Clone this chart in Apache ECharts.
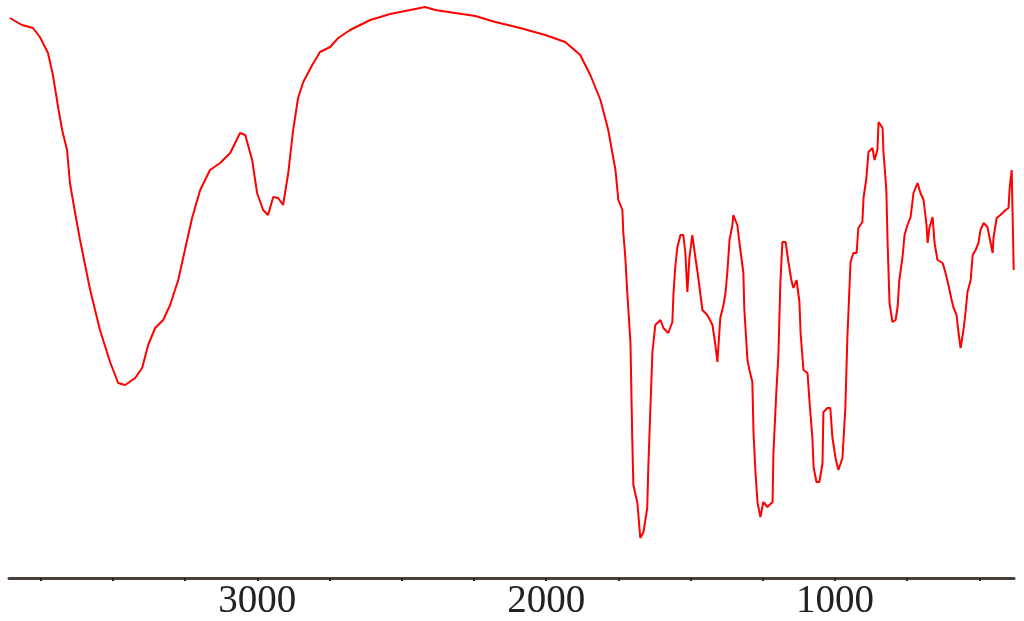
<!DOCTYPE html>
<html>
<head>
<meta charset="utf-8">
<script src="https://cdn.jsdelivr.net/npm/echarts@6/dist/echarts.min.js"></script>
<style>
  html, body { margin: 0; padding: 0; background: #fff; }
  #spectrum { width: 1024px; height: 621px; }
</style>
</head>
<body>
<div id="spectrum"></div>
<script>
// wavenumber (cm-1)
var wavenumbers = [
  3857, 3815, 3777, 3753, 3725, 3708, 3690, 3676, 3659, 3649, 3631, 3614, 3579, 3545, 3510, 3482, 3458,
  3423, 3399, 3378, 3354, 3326, 3302, 3274, 3247, 3226, 3198, 3164, 3129, 3094, 3060, 3042, 3018, 3001,
  2980, 2963, 2945, 2928, 2911, 2893, 2876, 2859, 2841, 2810, 2783, 2748, 2720, 2679, 2609, 2540, 2471,
  2419, 2384, 2315, 2245, 2176, 2090, 2003, 1934, 1882, 1847, 1812, 1785, 1760, 1750, 1736, 1733, 1726,
  1719, 1708, 1702, 1698, 1684, 1674, 1663, 1650, 1646, 1639, 1632, 1622, 1604, 1594, 1577, 1563, 1559,
  1553, 1546, 1535, 1525, 1518, 1511, 1504, 1494, 1490, 1483, 1473, 1459, 1442, 1424, 1414, 1407, 1397,
  1386, 1379, 1372, 1365, 1355, 1352, 1338, 1331, 1317, 1314, 1303, 1296, 1286, 1282, 1275, 1268, 1258,
  1248, 1234, 1216, 1213, 1203, 1196, 1189, 1182, 1171, 1161, 1151, 1144, 1133, 1123, 1119, 1109, 1095,
  1088, 1078, 1074, 1064, 1054, 1043, 1040, 1026, 1016, 1009, 998, 988, 974, 964, 957, 946, 936, 925,
  919, 905, 901, 891, 884, 870, 863, 853, 849, 835, 832, 822, 818, 811, 801, 790, 783, 777, 766, 759,
  749, 738, 728, 714, 704, 693, 683, 679, 673, 662, 655, 645, 627, 617, 607, 596, 589, 579, 572, 565,
  555, 548, 541, 530, 523, 513, 503, 496, 485, 472, 465, 454, 451, 440, 427, 409, 399, 395, 388, 385, 381
];

// transmittance (arbitrary units, axis hidden)
var transmittance = [
  112, 110.6, 110, 108.2, 105, 100.6, 94.2, 89.6, 85.6, 79, 73, 67.6, 57.6, 49.6, 43.2, 39, 38.6,
  40, 42, 46.6, 50, 51.6, 54.6, 59.6, 66.6, 72, 77.6, 81.6, 83, 85, 89, 88.6, 83.6, 77,
  73.6, 72.6, 76.2, 76, 74.6, 81, 89.6, 96, 99.2, 102.6, 105.2, 106.2, 108, 109.6, 111.6, 112.8, 113.6,
  114.2, 113.6, 113, 112.4, 111.2, 110, 108.6, 107.2, 104.6, 100.6, 95.6, 89.6, 81.6, 75.6, 73.6, 69.2, 64.2,
  57, 47, 28.2, 18.6, 15, 8, 9.2, 14, 22.6, 34, 45.2, 50.6, 51.6, 50, 49, 51.2, 57,
  62.2, 66, 68.6, 68.6, 65, 57.2, 64, 68.6, 68.6, 64, 60, 53.6, 52.6, 50.6, 46.6, 43.2, 52,
  54.6, 57, 61.6, 67.6, 70.6, 72.6, 70.6, 67.2, 61, 54, 43.6, 41.6, 39.2, 29, 21, 15, 12.2,
  15.2, 14.2, 15.2, 25, 37.2, 44.2, 59, 67.2, 67.2, 63.2, 59.6, 58, 59.6, 55.2, 49, 41.6, 41,
  35.2, 28, 22.2, 19.2, 19.2, 23, 33.2, 34, 34, 28.2, 24, 21.6, 24, 34, 48, 63.2, 65, 65,
  70, 71.2, 76, 80, 85.2, 86, 83.6, 85.6, 91.2, 90, 85.2, 77.6, 67.6, 55, 51.2, 51.6, 54.2, 59.6, 64.2, 68.6,
  70.6, 72.2, 77, 79, 77, 75.6, 70.6, 67, 70, 72.2, 67, 63.6, 63, 61, 58.6, 55.6, 54, 52.6, 49, 46,
  49.6, 53, 57.2, 59.6, 64.6, 65.6, 67, 69.6, 71, 70.2, 68.2, 65, 68, 72, 72.6, 73.6, 74, 78, 81.6, 73.2, 61.6
];

var labelValues = [1000, 2000, 3000];
var tickValues = [500, 750, 1000, 1250, 1500, 1750, 2000, 2250, 2500, 2750, 3000, 3250, 3500, 3750];

var points = [];
for (var i = 0; i < wavenumbers.length; i++) {
  points.push([wavenumbers[i], transmittance[i]]);
}

var myChart = echarts.init(document.getElementById('spectrum'));
var option = {
  animation: false,
  backgroundColor: '#fff',
  grid: {
    left: 9,
    right: 10,
    top: 0,
    bottom: 43
  },
  xAxis: {
    type: 'value',
    inverse: true,
    min: 380,
    max: 3860,
    splitLine: { show: false },
    axisLine: {
      show: true,
      lineStyle: { color: '#4a3e37', width: 3 }
    },
    axisTick: {
      show: true,
      inside: false,
      length: 3,
      customValues: tickValues,
      lineStyle: { color: '#222', width: 2 }
    },
    axisLabel: {
      customValues: labelValues,
      formatter: function (v) { return String(v); },
      color: '#222',
      fontFamily: 'Liberation Serif',
      fontSize: 39,
      margin: 4
    }
  },
  yAxis: {
    type: 'value',
    show: false,
    min: 0,
    max: 115.6
  },
  series: [
    {
      type: 'line',
      data: points,
      symbol: 'none',
      lineStyle: { color: '#ff0000', width: 2 }
    }
  ]
};
option && myChart.setOption(option);
</script>
</body>
</html>
